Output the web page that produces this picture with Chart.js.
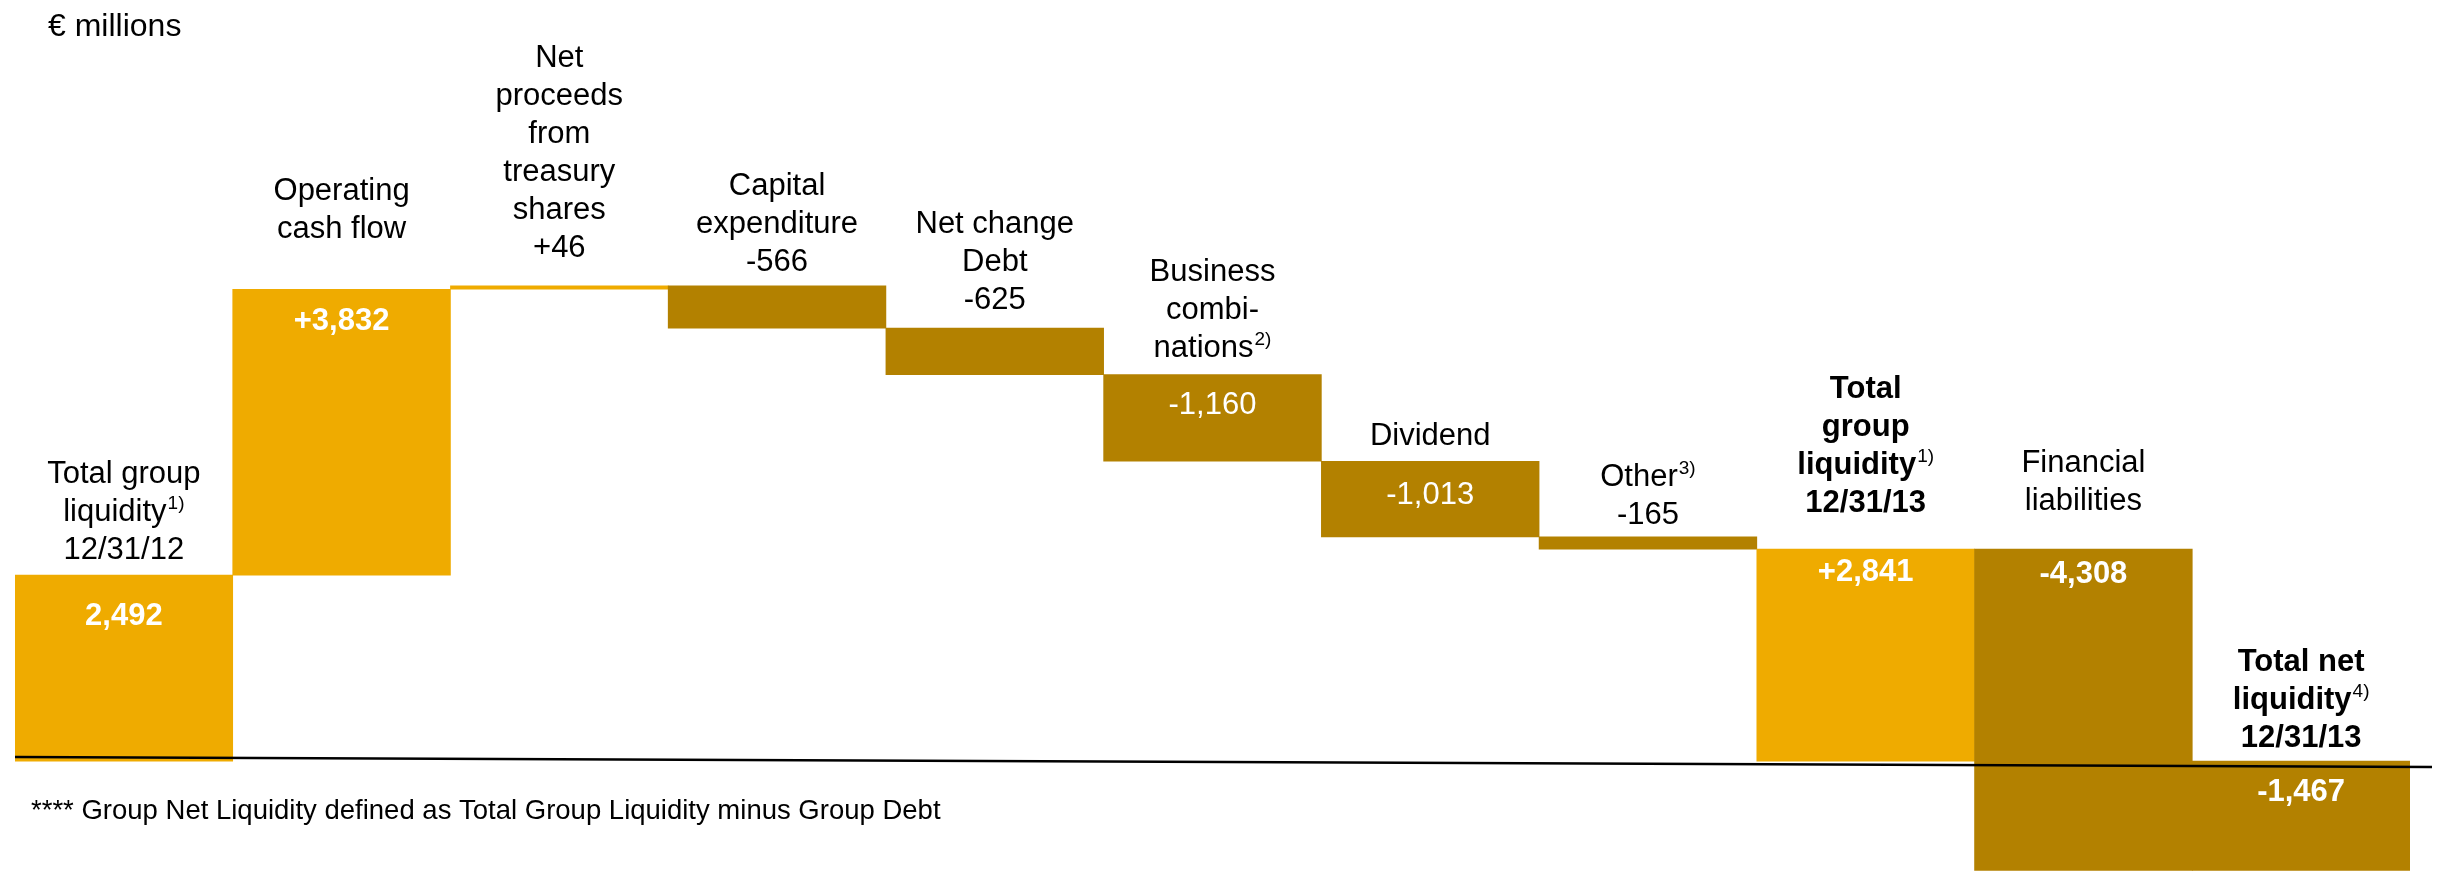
<!DOCTYPE html>
<html>
<head>
<meta charset="utf-8">
<script src="https://cdn.jsdelivr.net/npm/chart.js@4.4.1/dist/chart.umd.min.js"></script>
<style>
    html, body { margin: 0; padding: 0; background: #ffffff; }
    canvas { display: block; }
</style>
</head>
<body>
<canvas id="waterfall" width="2439" height="873"></canvas>
<script>
// === DATA ===
// "^" marks the start of a superscript footnote reference
const categories = [
    ["Total group", "liquidity^1)", "12/31/12"],
    ["Operating", "cash flow"],
    ["Net", "proceeds", "from", "treasury", "shares", "+46"],
    ["Capital", "expenditure", "-566"],
    ["Net change", "Debt", "-625"],
    ["Business", "combi-", "nations^2)"],
    ["Dividend"],
    ["Other^3)", "-165"],
    ["Total", "group", "liquidity^1)", "12/31/13"],
    ["Financial", "liabilities"],
    ["Total net", "liquidity^4)", "12/31/13"],
];
const changes = [2492, 3832, 46, -566, -625, -1160, -1013, -165, 2841, -4308, -1467];
const isTotal = [true, false, false, false, false, false, false, false, true, false, true];
const valueLabels = ["2,492", "+3,832", "", "", "", "-1,160", "-1,013", "", "+2,841", "-4,308", "-1,467"];
const yMin = -1500;
const yMax = 10000;

// === STYLE ===
const FONT = '"Liberation Sans", Arial, sans-serif';
const LIGHT = "#EFAB00";
const DARK = "#B38100";
const LINE_H = 38;
const boldCategory = [false, false, false, false, false, false, false, false, true, false, true];
const boldValue = [true, true, false, false, false, false, false, false, true, true, true];
// distance from bar top to last label baseline / value baseline
const labelGap = [16, 51, 29, 15, 19, 18, 16, 13, 37, 39, 14];
const valueDrop = [50, 41, 0, 0, 0, 39, 43, 0, 32, 34, 40];

// running totals -> floating bars
const ranges = [];
let running = 0;
changes.forEach((v, i) => {
    if (isTotal[i]) {
        ranges.push([0, v]);
        running = v;
    } else {
        ranges.push([running, running + v]);
        running += v;
    }
});
const barColors = changes.map((v) => (v >= 0 ? LIGHT : DARK));

// text with optional superscript, centred on cx
function drawRich(ctx, text, cx, baseline, size, bold, color) {
    const parts = text.split("^");
    const main = parts[0];
    const sup = parts[1] || "";
    const supSize = Math.round(size * 0.6);
    ctx.font = `${bold ? "bold" : "normal"} ${size}px ${FONT}`;
    const wMain = ctx.measureText(main).width;
    let wSup = 0;
    if (sup) {
        ctx.font = `normal ${supSize}px ${FONT}`;
        wSup = ctx.measureText(sup).width + 1;
    }
    const x0 = cx - (wMain + wSup) / 2;
    ctx.fillStyle = color;
    ctx.textAlign = "left";
    ctx.textBaseline = "alphabetic";
    ctx.font = `${bold ? "bold" : "normal"} ${size}px ${FONT}`;
    ctx.fillText(main, x0, baseline);
    if (sup) {
        ctx.font = `normal ${supSize}px ${FONT}`;
        ctx.fillText(sup, x0 + wMain + 1, baseline - size * 0.38);
    }
}

const annotations = {
    id: "annotations",
    afterDatasetsDraw(chart) {
        const ctx = chart.ctx;
        const meta = chart.getDatasetMeta(0);
        const y0 = chart.scales.y.getPixelForValue(0);

        ctx.save();
        // slightly slanted baseline rule, as in the slide
        ctx.strokeStyle = "#000000";
        ctx.lineWidth = 2.5;
        ctx.beginPath();
        ctx.moveTo(chart.chartArea.left, y0 - 4);
        ctx.lineTo(2432, y0 + 6);
        ctx.stroke();

        meta.data.forEach((bar, i) => {
            const top = Math.min(bar.y, bar.base);
            const lines = categories[i];
            const last = top - labelGap[i];
            lines.forEach((line, k) => {
                const base = last - (lines.length - 1 - k) * LINE_H;
                drawRich(ctx, line, bar.x, base, 31, boldCategory[i], "#000000");
            });
            if (valueLabels[i]) {
                drawRich(ctx, valueLabels[i], bar.x, top + valueDrop[i], 31, boldValue[i], "#ffffff");
            }
        });

        // unit and footnote
        ctx.fillStyle = "#000000";
        ctx.textAlign = "left";
        ctx.textBaseline = "alphabetic";
        ctx.font = `normal 32px ${FONT}`;
        ctx.fillText("€ millions", 48, 36);
        ctx.font = `normal 27.5px ${FONT}`;
        ctx.fillText("**** Group Net Liquidity defined as Total Group Liquidity minus Group Debt", 31, 819);
        ctx.restore();
    },
};

new Chart(document.getElementById("waterfall"), {
    type: "bar",
    data: {
        labels: categories.map((c) => c.join(" ")),
        datasets: [
            {
                data: ranges,
                backgroundColor: barColors,
                borderWidth: 0,
                borderSkipped: false,
                barPercentage: 1,
                categoryPercentage: 1,
            },
        ],
    },
    options: {
        responsive: false,
        animation: false,
        devicePixelRatio: 1,
        layout: { padding: { left: 15, right: 29, top: 15, bottom: 0 } },
        plugins: {
            legend: { display: false },
            tooltip: { enabled: false },
        },
        scales: {
            x: { display: false, grid: { display: false } },
            y: { display: false, min: yMin, max: yMax, grid: { display: false } },
        },
    },
    plugins: [annotations],
});
</script>
</body>
</html>
